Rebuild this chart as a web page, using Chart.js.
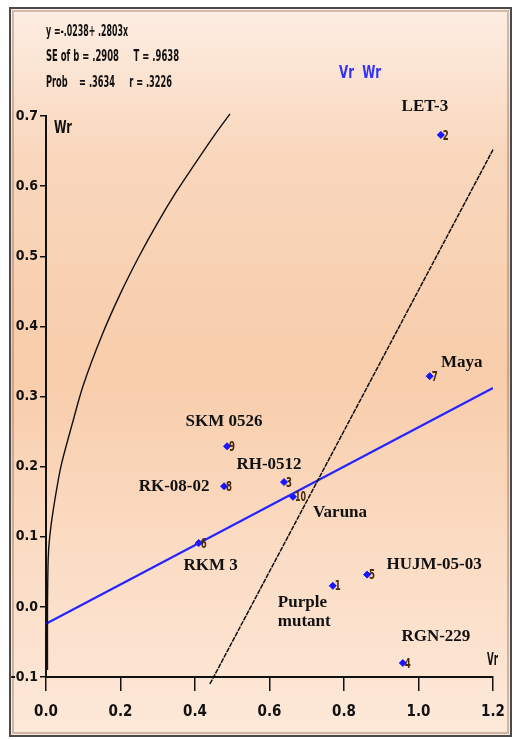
<!DOCTYPE html>
<html lang="en">
<head>
    <meta charset="UTF-8">
    <title>Vr Wr</title>
    <script src="https://cdn.jsdelivr.net/npm/chart.js"></script>
    <style>
        body { margin: 0; background: #fff; }
    </style>
</head>
<body>
    <canvas id="vrWrChart" width="520" height="740"></canvas>
    <script>
        // genotypes: number, name, Vr, Wr
        var genoNums = [1, 2, 3, 4, 5, 6, 7, 8, 9, 10];
        var genoNames = ['Purple\nmutant', 'LET-3', 'RH-0512', 'RGN-229', 'HUJM-05-03', 'RKM 3', 'Maya', 'RK-08-02', 'SKM 0526', 'Varuna'];
        var vrValues = [0.770, 1.060, 0.639, 0.958, 0.862, 0.410, 1.030, 0.478, 0.486, 0.663];
        var wrValues = [0.030, 0.673, 0.178, -0.080, 0.046, 0.091, 0.329, 0.172, 0.229, 0.157];

        // regression line y = -.0238 + .2803x
        var regVr = [0.0, 1.2];
        var regWr = [-0.024, 0.312];

        // unit slope line
        var unitVr = [0.44, 1.2];
        var unitWr = [-0.11, 0.652];

        // limiting parabola
        var parVr = [0.004, 0.004, 0.006, 0.01, 0.02, 0.04, 0.07, 0.10, 0.15, 0.20, 0.25, 0.30, 0.35, 0.40, 0.45, 0.494];
        var parWr = [-0.09, 0.0, 0.07, 0.10, 0.14, 0.20, 0.26, 0.316, 0.387, 0.447, 0.50, 0.548, 0.592, 0.632, 0.671, 0.703];

        var xTicks = [0.0, 0.2, 0.4, 0.6, 0.8, 1.0, 1.2];
        var yTicks = [-0.1, 0.0, 0.1, 0.2, 0.3, 0.4, 0.5, 0.6, 0.7];

        var statLines = ['y =-.0238+ .2803x', 'SE of b = .2908     T = .9638', 'Prob    = .3634     r = .3226'];

        // where each name label sits, relative to its point (px)
        var nameOffsets = [[-55, 17], [-16, -28], [-15, -17], [33, -26], [67, -10], [12, 23], [32, -14], [-50, 0], [-3, -25], [47, 16]];

        function pts(xs, ys) {
            return xs.map(function (x, i) { return { x: x, y: ys[i] }; });
        }

        var narrow = '"DejaVu Sans Condensed", "Liberation Sans", Arial, sans-serif';
        var serif = '"Liberation Serif", "DejaVu Serif", serif';

        // draw text squeezed to a given width (the original uses a narrow face)
        function fitText(c, s, x, y, w) {
            var m = c.measureText(s).width;
            c.save();
            c.translate(x, y);
            c.scale(w / m, 1);
            c.fillText(s, 0, 0);
            c.restore();
        }

        var backdrop = {
            id: 'backdrop',
            beforeDraw: function (chart) {
                var c = chart.ctx;
                c.save();
                c.fillStyle = '#ffffff';
                c.fillRect(0, 0, chart.width, chart.height);
                var g = c.createLinearGradient(0, 8, 0, 736);
                g.addColorStop(0, '#fdeee3');
                g.addColorStop(0.2, '#f9d7bd');
                g.addColorStop(0.5, '#f8cdab');
                g.addColorStop(0.75, '#fbdcc4');
                g.addColorStop(1, '#fde9da');
                c.fillStyle = g;
                c.fillRect(10, 8, 501, 728);
                c.strokeStyle = '#4a4a4a';
                c.lineWidth = 2;
                c.strokeRect(10, 8, 501, 728);
                c.strokeStyle = 'rgba(120,90,70,0.35)';
                c.lineWidth = 2;
                c.strokeRect(13, 11, 495, 722);
                c.restore();
            },
            afterDraw: function (chart) {
                var c = chart.ctx;
                var xs = chart.scales.x, ys = chart.scales.y;
                c.save();
                // stats block
                c.fillStyle = '#111';
                c.font = 'bold 15px ' + narrow;
                c.textBaseline = 'middle';
                c.textAlign = 'left';
                var statW = [82, 133, 126];
                statLines.forEach(function (s, i) {
                    fitText(c, s, 46, [32, 57, 83][i], statW[i]);
                });
                // title
                c.fillStyle = '#3030ff';
                c.font = 'bold 18px ' + narrow;
                fitText(c, 'Vr  Wr', 339, 73, 42);
                // axis names
                c.fillStyle = '#111';
                c.font = 'bold 17px ' + narrow;
                fitText(c, 'Wr', 54, 129, 18);
                fitText(c, 'Vr', 487, 661, 11);
                // genotype numbers and names
                genoNums.forEach(function (n, i) {
                    var px = xs.getPixelForValue(vrValues[i]);
                    var py = ys.getPixelForValue(wrValues[i]);
                    c.fillStyle = '#4a2a08';
                    c.font = 'bold 14px ' + narrow;
                    c.textAlign = 'left';
                    fitText(c, String(n), px + 2, py + 1, n > 9 ? 11 : 6);
                    c.fillStyle = '#111';
                    c.font = 'bold 17px ' + serif;
                    c.textAlign = 'center';
                    var lines = genoNames[i].split('\n');
                    var lx = px + nameOffsets[i][0], ly = py + nameOffsets[i][1];
                    if (lines.length > 1) {
                        c.textAlign = 'left';
                        lines.forEach(function (l, k) { c.fillText(l, lx, ly + k * 19); });
                    } else {
                        c.fillText(lines[0], lx, ly);
                    }
                });
                c.restore();
            }
        };

        var ctx = document.getElementById('vrWrChart').getContext('2d');
        var vrWrChart = new Chart(ctx, {
            type: 'scatter',
            data: {
                datasets: [
                    {
                        label: 'Parabola',
                        data: pts(parVr, parWr),
                        showLine: true,
                        borderColor: '#111',
                        borderWidth: 1.4,
                        pointRadius: 0,
                        tension: 0.3,
                        clip: false
                    },
                    {
                        label: 'Unit slope',
                        data: pts(unitVr, unitWr),
                        showLine: true,
                        borderColor: '#111',
                        borderWidth: 1.5,
                        borderDash: [5, 1],
                        pointRadius: 0,
                        clip: false
                    },
                    {
                        label: 'Regression',
                        data: pts(regVr, regWr),
                        showLine: true,
                        borderColor: '#2424ff',
                        borderWidth: 2.2,
                        pointRadius: 0
                    },
                    {
                        label: 'Genotypes',
                        data: pts(vrValues, wrValues),
                        pointStyle: 'rectRot',
                        pointRadius: 3.5,
                        backgroundColor: '#1515ff',
                        borderColor: '#1515ff',
                        borderWidth: 1
                    }
                ]
            },
            options: {
                responsive: false,
                animation: false,
                devicePixelRatio: 1,
                layout: { padding: { top: 116, right: 27, left: 0, bottom: 0 } },
                plugins: {
                    legend: { display: false },
                    tooltip: { enabled: false }
                },
                scales: {
                    x: {
                        type: 'linear',
                        min: 0,
                        max: 1.2,
                        afterFit: function (s) { s.height = 63; },
                        afterBuildTicks: function (s) { s.ticks = xTicks.map(function (v) { return { value: v }; }); },
                        ticks: {
                            color: '#111',
                            padding: 12,
                            font: { family: narrow, size: 15, weight: 'bold' },
                            callback: function (v) { return Number(v).toFixed(1); }
                        },
                        grid: { drawOnChartArea: false, drawTicks: true, tickLength: 14, color: '#111', lineWidth: 1.5 },
                        border: { display: true, color: '#111', width: 2 }
                    },
                    y: {
                        type: 'linear',
                        min: -0.1,
                        max: 0.7,
                        afterFit: function (s) { s.width = 46; },
                        afterBuildTicks: function (s) { s.ticks = yTicks.map(function (v) { return { value: v }; }); },
                        ticks: {
                            color: '#111',
                            padding: 2,
                            font: { family: narrow, size: 14, weight: 'bold' },
                            callback: function (v) { return Number(v).toFixed(1); }
                        },
                        grid: { drawOnChartArea: false, drawTicks: true, tickLength: 6, color: '#111', lineWidth: 1.5 },
                        border: { display: true, color: '#111', width: 2 }
                    }
                }
            },
            plugins: [backdrop]
        });
    </script>
</body>
</html>
